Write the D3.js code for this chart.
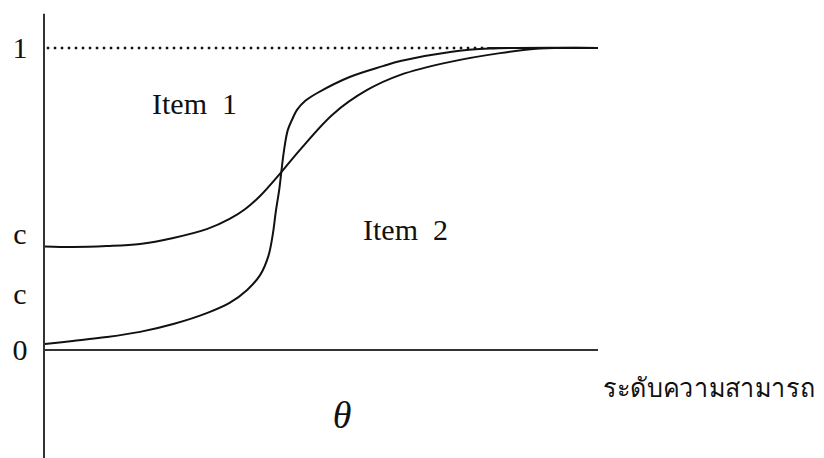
<!DOCTYPE html>
<html>
<head>
<meta charset="utf-8">
<script src="https://cdn.jsdelivr.net/npm/d3@7"></script>
<style>
  html, body { margin: 0; padding: 0; background: #fff; }
  svg { display: block; }
  .serif { font-family: "Liberation Serif", "Times New Roman", serif; fill: #111; }
</style>
</head>
<body>
<div id="chart"></div>
<script>
// Ability scale (theta) and probability of a correct answer for two items
const thetaItem1 = [-2.99, -2.69, -2.32, -1.96, -1.60, -1.23, -0.99, -0.82, -0.66, -0.43, -0.23, 0.13, 0.50, 0.86, 1.40, 1.94, 2.37, 3.00];
const probItem1  = [0.343, 0.341, 0.344, 0.351, 0.371, 0.401, 0.434, 0.467, 0.510, 0.589, 0.662, 0.781, 0.861, 0.911, 0.954, 0.983, 0.998, 1.000];

const thetaItem2 = [-2.99, -2.69, -2.32, -1.96, -1.60, -1.23, -0.99, -0.80, -0.66, -0.57, -0.52, -0.49, -0.45, -0.43, -0.40, -0.36, -0.31, -0.26, -0.17, -0.04, 0.31, 0.67, 0.86, 1.40, 1.83, 3.00];
const probItem2  = [0.020, 0.030, 0.043, 0.060, 0.086, 0.123, 0.156, 0.199, 0.248, 0.311, 0.387, 0.457, 0.536, 0.589, 0.662, 0.728, 0.765, 0.795, 0.825, 0.851, 0.904, 0.940, 0.957, 0.987, 0.998, 1.000];

// Y-axis labels
const yTickValues = [1, 0.385, 0.185, 0];
const yTickLabels = ["1", "c", "c", "0"];

// Item labels placed at (theta, probability)
const itemLabels = ["Item  1", "Item  2"];
const itemLabelTheta = [-1.83, 0.455];
const itemLabelProb  = [0.781, 0.364];

const xTitle = "\u03B8";
const thaiTitle = "ระดับความสามารถ";

const W = 824, H = 458;
const svg = d3.select("#chart").append("svg").attr("width", W).attr("height", H);

const x = d3.scaleLinear().domain([-3, 3]).range([44, 598]);
const y = d3.scaleLinear().domain([0, 1]).range([350, 48]);

// Vertical axis line
svg.append("line")
  .attr("x1", x(-3)).attr("x2", x(-3))
  .attr("y1", y(1.113)).attr("y2", H)
  .attr("stroke", "#333").attr("stroke-width", 2);

// Baseline at P = 0
svg.append("line")
  .attr("x1", x(-3)).attr("x2", x(3))
  .attr("y1", y(0)).attr("y2", y(0))
  .attr("stroke", "#333").attr("stroke-width", 2);

// Dotted upper bound at P = 1, solid where the curves level off
svg.append("line")
  .attr("x1", x(-2.97)).attr("x2", x(1.8))
  .attr("y1", y(1)).attr("y2", y(1))
  .attr("stroke", "#111").attr("stroke-width", 2.5)
  .attr("stroke-dasharray", "2.5 4.5");
svg.append("line")
  .attr("x1", x(1.8)).attr("x2", x(3))
  .attr("y1", y(1)).attr("y2", y(1))
  .attr("stroke", "#222").attr("stroke-width", 2);

// Item characteristic curves
const line = d3.line()
  .x(d => x(d[0]))
  .y(d => y(d[1]))
  .curve(d3.curveCatmullRom.alpha(0.5));

const series = [
  d3.zip(thetaItem1, probItem1),
  d3.zip(thetaItem2, probItem2)
];

svg.selectAll("path.icc")
  .data(series)
  .join("path")
  .attr("class", "icc")
  .attr("d", line)
  .attr("fill", "none")
  .attr("stroke", "#111")
  .attr("stroke-width", 2);

// Y-axis labels
const yAxis = d3.axisLeft(y)
  .tickValues(yTickValues)
  .tickFormat((d, i) => yTickLabels[i])
  .tickSize(0)
  .tickPadding(0);

const gy = svg.append("g").attr("transform", "translate(20,0)").call(yAxis);
gy.select(".domain").remove();
gy.selectAll("text")
  .attr("class", "serif")
  .attr("text-anchor", "middle")
  .attr("x", 0)
  .attr("dy", "0.32em")
  .style("font-size", "30px");

// Item labels
svg.selectAll("text.item")
  .data(itemLabels)
  .join("text")
  .attr("class", "item serif")
  .attr("x", (d, i) => x(itemLabelTheta[i]))
  .attr("y", (d, i) => y(itemLabelProb[i]))
  .attr("xml:space", "preserve")
  .style("white-space", "pre")
  .style("font-size", "30px")
  .text(d => d);

// Theta title
svg.append("text")
  .attr("class", "serif")
  .attr("x", 342).attr("y", 428)
  .attr("text-anchor", "middle")
  .style("font-size", "38px")
  .style("font-style", "italic")
  .text(xTitle);

// Thai title
svg.append("text")
  .attr("x", 603).attr("y", 397)
  .style("font-family", "'Noto Sans', 'DejaVu Sans', sans-serif")
  .style("font-size", "26px")
  .attr("fill", "#111")
  .attr("textLength", 212)
  .attr("lengthAdjust", "spacingAndGlyphs")
  .text(thaiTitle);
</script>
</body>
</html>
